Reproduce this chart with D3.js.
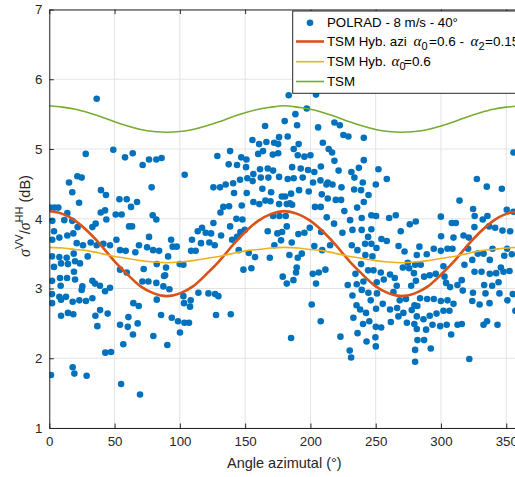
<!DOCTYPE html>
<html><head><meta charset="utf-8">
<script src="https://cdn.jsdelivr.net/npm/d3@7"></script>
<style>body{margin:0;background:#fff;overflow:hidden}</style>
</head><body><svg id="c" width="515" height="477"></svg>
<script>
const xTicks=[0,50,100,150,200,250,300,350];
const yTicks=[1,2,3,4,5,6,7];
const curveAngle=[0,10,20,30,40,50,60,70,80,90,100,110,120,130,140,150,160,170,180,190,200,210,220,230,240,250,260,270,280,290,300,310,320,330,340,350,360];
const tsmHybAzi=[4.11,4.07,3.97,3.81,3.61,3.39,3.20,3.03,2.93,2.89,2.93,3.03,3.20,3.39,3.61,3.81,3.97,4.07,4.11,4.07,3.97,3.81,3.61,3.39,3.20,3.03,2.93,2.89,2.93,3.03,3.20,3.39,3.61,3.81,3.97,4.07,4.11];
const tsmHyb=[3.59,3.58,3.56,3.54,3.50,3.46,3.43,3.40,3.38,3.37,3.38,3.40,3.43,3.46,3.50,3.54,3.56,3.58,3.59,3.58,3.56,3.54,3.50,3.46,3.43,3.40,3.38,3.37,3.38,3.40,3.43,3.46,3.50,3.54,3.56,3.58,3.59];
const tsm=[5.62,5.60,5.57,5.52,5.46,5.39,5.33,5.28,5.25,5.24,5.25,5.28,5.33,5.39,5.46,5.52,5.57,5.60,5.62,5.60,5.57,5.52,5.46,5.39,5.33,5.28,5.25,5.24,5.25,5.28,5.33,5.39,5.46,5.52,5.57,5.60,5.62];
const legendLabels=["POLRAD - 8 m/s - 40°","TSM Hyb. azi","TSM Hyb.","TSM"];
const polradPoints=[
[36.3,5.72],[27.9,4.93],[49,4.99],[58,4.88],[63.9,4.94],[76.4,4.85],[82,4.85],[86,4.87],[128.7,4.9],[138.5,4.97],[147,4.88],[151,4.85],[155.6,5.13],[160.7,5.07],[160,4.93],[165.3,5.33],[166.3,5.1],[163.7,4.97],[171.2,4.92],[175.3,4.94],[172.2,5.09],[175.3,5.07],[176,5.17],
[21.5,4.61],[24.8,4.59],[15.1,4.52],[17.6,4.38],[22.8,4.23],[78.4,4.45],[103.7,4.63],[71.5,4.77],
[39.6,4.41],[43.4,4.34],[53.7,4.28],[59.3,4.28],[67.2,4.24],[62.6,4.17],[39.4,4.09],[42.7,4.12],[43.7,3.99],[50.9,4.06],[55.4,4.06],[33,3.88],[35.5,3.93],[61.1,3.89],[63.4,3.89],[79.2,4.05],[82,3.99],
[0.5,4.16],[3.9,4.16],[6.9,4.16],[13.8,4.08],[2.3,3.97],[11.5,3.98],[17.6,3.97],[21.7,3.88],[18.4,3.79],[3.6,3.82],[2.3,3.7],[7.7,3.73],[13.8,3.76],[21,3.65],[25.8,3.62],[31.7,3.66],[36.3,3.62],[41.4,3.64],[46.5,3.62],[51.4,3.7],[54.2,3.55],[58.5,3.54],[68.7,3.62],[65.9,3.52],[74.9,3.59],[79.5,3.55],[84.1,3.54],[76.4,3.74],[93.3,3.7],[94.5,3.6],[97.6,3.6],[91,3.46],[89.4,3.3],[82.3,3.35],[72.3,3.28],[75.9,3.1],[71.3,3.1],[82,3.08],[88.7,3.19],[87.9,3.18],[87.4,3.03],[92,2.99],[102.7,3.34],[99.9,3.35],[108.6,3.54],[112.1,3.54],[109.3,3.7],[116.2,3.65],[113.7,3.82],[117,3.87],[119.8,3.8],[123.9,3.79],[122.6,3.66],[125.7,3.94],[126.7,3.62],[131.6,3.76],[140,3.7],[143.8,3.74],[146.4,3.81],[149.7,3.84],[145.1,3.55],[152.8,3.51],[157.6,3.45],[154.8,3.29],[148.7,3.27],[168.9,3.44],[172.4,3.62],[177.5,3.69],[178.3,3.81],[174.7,3.79],[167.3,3.82],[171.4,4.04],[176.3,4.04],[143.3,4.0],[147.9,3.99],[138.5,3.89],[131.1,4.09],[133.3,4.17],[137.7,4.18],[147.4,4.19],[156.3,4.24],[160.9,4.21],[165.5,4.26],[169.4,4.25],[176,4.21],[178.1,4.32],[151.2,4.37],[141.5,4.37],[125.7,4.45],[130.8,4.45],[135.1,4.49],[140.8,4.51],[146.1,4.56],[151.7,4.58],[155.8,4.54],[162,4.59],[167.8,4.59],[171.4,4.69],[176,4.6],[163.2,4.43],[169.9,4.38],[156.3,4.64],[161.4,4.71],[167.3,4.72],[150.7,4.74],[143.8,4.77],[137.4,4.78],
[2.1,3.46],[7.7,3.45],[9,3.36],[3.6,3.31],[13.3,3.44],[14.3,3.35],[18.7,3.5],[19.7,3.39],[23.5,3.36],[29.4,3.46],[18.9,3.24],[2.1,3.11],[8.2,3.15],[13.6,3.15],[8.7,3.04],[19.7,3.13],[25.3,3.03],[33,3.11],[35,3.07],[38.8,3.04],[42.7,2.96],[46.5,3.01],[2.1,2.92],[7.7,2.88],[12.8,2.88],[24.8,2.98],[54.2,3.27],[59.3,3.23],
[2.1,2.79],[9,2.84],[17.9,2.81],[23,2.83],[28.1,2.82],[33,2.86],[9,2.61],[14.3,2.65],[18.4,2.63],[35.3,2.61],[38.9,2.69],[44.7,2.64],[36.8,2.46],[42.9,2.08],[47.3,2.09],[54.2,2.48],[60.1,2.45],[60.6,2.59],[64.4,2.79],[68.5,2.75],[67.7,2.5],[64.1,2.34],[56.7,2.2],[79.7,2.32],[85.6,2.62],[82.3,2.84],[93.8,2.58],[98.6,2.53],[100.1,2.37],[90.4,2.19],[103.2,2.79],[107.8,2.74],[108.3,2.83],[103.5,2.51],[107,2.51],[102.7,2.89],[114.2,2.94],[121.9,2.93],[127,2.92],[129.5,2.89],[127.7,2.62],[139,2.63],[1.3,1.76],[17.9,1.87],[19.2,1.78],[28.6,1.75],[55,1.63],[69.5,1.48],
[183.4,5.77],[204.3,5.78],[197.2,5.58],[188.5,5.5],[180.3,5.4],[189.8,5.34],[182.6,5.18],[205.9,5.31],[218.4,5.38],[222.5,5.34],[225.3,5.2],[229.1,5.18],[240.9,5.16],[209.5,5.09],[214,5.0],[216.6,4.95],[191,5.07],[187.2,5.0],[190.3,4.91],[195.4,4.89],[200,4.91],[218.4,4.83],[240.9,4.84],[186,4.74],[192.6,4.72],[198.2,4.7],[203,4.67],[208,4.75],[221.6,4.69],[231.4,4.67],[237.1,4.73],[252.1,4.71],[258.5,4.57],[182.6,4.57],[187.2,4.58],[194.1,4.59],[207.7,4.55],[212.3,4.49],[216.9,4.49],[213.3,4.52],[223.8,4.45],[219.4,4.27],[223.5,4.27],[233.7,4.59],[240.1,4.52],[238.8,4.41],[233.5,4.42],[244.5,4.34],[250.1,4.49],[235.8,4.16],[240.9,4.24],[191.3,4.41],[198.7,4.39],[202,4.52],[208.7,4.35],[213.3,4.29],[226,4.11],[180.6,4.32],[185.2,4.36],[184.2,4.22],[181.9,4.21],[186,4.2],[203.5,4.17],[207.9,4.17],[212.5,4.02],[218.1,3.93],[230.4,3.98],[239.3,4.01],[246.7,4.05],[250.3,4.04],[260.3,4.01],[265.4,4.05],[276.1,3.92],[280.7,3.96],[269.2,3.82],[299.9,4.03],[314.2,4.26],[327.5,4.57],[335.1,4.46],[346.6,4.43],[355.6,4.95],[324.6,4.14],[325.8,4.04],[332,3.99],[335.6,4.04],[325.6,3.88],[336.9,3.89],[341.5,3.87],[347.1,3.83],[350.4,4.13],[355.5,4.1],[353,3.82],[308.3,3.94],[311.4,3.94],[300.1,3.75],[309.6,3.73],[317.3,3.76],[321.3,3.73],
[181.9,3.89],[190.8,3.78],[195.4,3.8],[199.5,3.87],[203,3.61],[208.2,3.81],[209,3.55],[215.1,3.62],[224.5,3.8],[232.2,3.84],[239.3,3.84],[246.7,3.85],[244.2,3.74],[231.7,3.62],[236,3.55],[241.9,3.64],[246.7,3.64],[250.6,3.58],[242.1,3.48],[247.5,3.46],[254.4,3.71],[258.5,3.68],[267.5,3.61],[272.1,3.53],[283.5,3.6],[281.5,3.48],[289.1,3.49],[294.5,3.57],[299.9,3.54],[305,3.57],[308.8,3.57],[320.8,3.57],[328.2,3.5],[332.6,3.5],[339.5,3.57],[350.7,3.57],[354.3,3.49],[183.9,3.48],[190.3,3.44],[193.4,3.5],[185.7,3.66],[181.1,4.04],
[187,3.12],[178.8,3.17],[181.9,3.07],[189.5,3.3],[189,3.23],[201.8,3.21],[206.4,3.23],[204.3,3.07],[211.5,3.27],[201,2.77],[207.9,2.53],[185.2,2.29],[223,2.31],[230.1,2.11],[231.2,2.01],[228.6,3.05],[232.2,2.9],[234.5,3.21],[235.5,3.06],[238.8,3.35],[240.6,3.1],[239.3,2.98],[244.4,2.94],[246.2,2.83],[244.2,3.26],[248.3,3.26],[250.8,3.09],[251,2.93],[250.3,2.71],[253.9,3.23],[256.2,3.13],[255.4,2.78],[261,3.2],[264.6,3.15],[266.1,3.04],[263.6,2.95],[261,2.7],[266.4,2.72],[268.4,2.83],[271.2,2.65],[267.4,2.6],[261.6,2.52],[235.3,2.76],[238.1,2.7],[242.6,2.65],[232.9,2.58],[240.3,2.49],[245.1,2.53],[236.1,2.36],[243,2.24],[250.1,2.45],[254.2,2.44],[249.8,2.3],[250.1,2.17],[274.6,3.37],[280.2,3.34],[284.5,3.34],[270.8,3.3],[275.6,3.29],[279.3,3.22],[277.2,3.04],[280.8,3.11],[273.2,2.85],[279.7,2.76],[284,2.86],[277.6,2.69],[281.9,2.75],[281.5,2.6],[273.9,2.51],[279.6,2.49],[281.5,2.42],[282,2.26],[287.1,2.26],[280.2,2.12],[280.2,1.95],[287.1,3.17],[291.4,3.19],[296,3.21],[289.4,2.85],[294.5,2.85],[291.4,2.61],[286.6,2.56],[288.6,2.41],[293.5,2.48],[296.6,2.64],[292.2,2.14],[299.9,2.82],[301.9,2.68],[305,2.83],[309.6,2.78],[306.5,2.68],[299.4,2.46],[304.4,2.48],[307.8,2.34],[312.7,2.48],[316,2.49],[316.7,2.97],[321.7,1.99],[324.5,2.94],[324,2.82],[329.6,2.77],[334.1,2.93],[337.2,2.79],[344.8,2.93],[335.3,2.53],[332.6,2.48],[343.3,2.48],[350.9,2.83],[355,2.92],[357,2.68],[301.9,3.32],[303.9,3.08],[307,3.02],[302.7,3.17],[312.6,3.05],[315.9,3.12],[318,3.34],[324,3.41],[325.7,3.24],[331.1,3.24],[337.4,3.41],[337.4,3.21],[333.1,3.05],[339.2,3.04],[344.1,3.09],[342.3,3.22],[345.9,3.3],[347.9,3.24],[352.5,3.25],[348.5,3.47]
];

const colors={pts:"#0072BD",red:"#D95319",yel:"#EDB120",grn:"#77AC30",ax:"#262626",grid:"#e3e3e3"};
const svg=d3.select("#c");
const L=49.3,T=9.5,R=519.3,B=428;
const x=d3.scaleLinear().domain([0,360]).range([L,R]);
const y=d3.scaleLinear().domain([1,7]).range([B,T]);
const font="'Liberation Sans',Arial,Helvetica,sans-serif";
const serif="'Liberation Serif',serif";

svg.append("defs").append("clipPath").attr("id","clip").append("rect").attr("x",L).attr("y",T).attr("width",R-L).attr("height",B-T);

// grid
const g=svg.append("g");
g.selectAll(".gx").data(xTicks).enter().append("line").attr("x1",d=>x(d)).attr("x2",d=>x(d)).attr("y1",T).attr("y2",B).attr("stroke",colors.grid).attr("stroke-width",1);
g.selectAll(".gy").data(yTicks).enter().append("line").attr("y1",d=>y(d)).attr("y2",d=>y(d)).attr("x1",L).attr("x2",R).attr("stroke",colors.grid).attr("stroke-width",1);

const plot=svg.append("g").attr("clip-path","url(#clip)");
plot.selectAll("circle").data(polradPoints).enter().append("circle")
 .attr("cx",d=>x(d[0])).attr("cy",d=>y(d[1])).attr("r",3.3).attr("fill",colors.pts);

const line=d3.line().x((d,i)=>x(curveAngle[i])).y(d=>y(d)).curve(d3.curveNatural);
plot.append("path").attr("d",line(tsmHybAzi)).attr("fill","none").attr("stroke",colors.red).attr("stroke-width",2.6);
plot.append("path").attr("d",line(tsmHyb)).attr("fill","none").attr("stroke",colors.yel).attr("stroke-width",1.6);
plot.append("path").attr("d",line(tsm)).attr("fill","none").attr("stroke",colors.grn).attr("stroke-width",1.6);

// axes
const xa=svg.append("g").attr("transform",`translate(0,${B})`).call(d3.axisBottom(x).tickValues(xTicks).tickSizeInner(-4.5).tickSizeOuter(0).tickPadding(9));
const xt=svg.append("g").attr("transform",`translate(0,${T})`).call(d3.axisTop(x).tickValues(xTicks).tickSizeInner(-4.5).tickSizeOuter(0).tickFormat(""));
const ya=svg.append("g").attr("transform",`translate(${L},0)`).call(d3.axisLeft(y).tickValues(yTicks).tickFormat(d3.format("d")).tickSizeInner(-4.5).tickSizeOuter(0).tickPadding(7));
[xa,xt,ya].forEach(a=>{a.select(".domain").attr("stroke",colors.ax).attr("stroke-width",1);a.selectAll(".tick line").attr("stroke",colors.ax);a.selectAll("text").attr("fill",colors.ax).style("font-family",font).style("font-size","13.3px");});

// x label
svg.append("text").attr("x",(L+R)/2).attr("y",468).attr("text-anchor","middle").attr("fill",colors.ax).style("font-family",font).style("font-size","14.5px").text("Angle azimutal (°)");
// y label
const yl=svg.append("text").attr("transform",`translate(30,216) rotate(-90)`).attr("text-anchor","middle").attr("fill",colors.ax).style("font-family",font).style("font-size","14.5px");
yl.append("tspan").style("font-family",serif).style("font-style","italic").style("font-size","16px").text("σ");
yl.append("tspan").attr("dy",-7).style("font-size","11px").text("VV");
yl.append("tspan").attr("dy",7).text("/");
yl.append("tspan").style("font-family",serif).style("font-style","italic").style("font-size","16px").text("σ");
yl.append("tspan").attr("dy",-7).style("font-size","11px").text("HH");
yl.append("tspan").attr("dy",7).text(" (dB)");

// legend
const lg=svg.append("g");
lg.append("rect").attr("x",292.7).attr("y",11).attr("width",240).attr("height",82.3).attr("fill","#fff").attr("stroke",colors.ax).attr("stroke-width",1);
const rowsY=[22.7,41.5,61.7,81.5];
lg.append("circle").attr("cx",310).attr("cy",rowsY[0]).attr("r",3.3).attr("fill",colors.pts);
[[colors.red,2.6],[colors.yel,1.6],[colors.grn,1.6]].forEach((c,i)=>{
 lg.append("line").attr("x1",296).attr("x2",324).attr("y1",rowsY[i+1]).attr("y2",rowsY[i+1]).attr("stroke",c[0]).attr("stroke-width",c[1]);
});
function ltext(i){return lg.append("text").attr("x",327).attr("y",rowsY[i]).attr("dy","0.35em").attr("fill","#000").style("font-family",font).style("font-size","13.3px");}
ltext(0).text(legendLabels[0]);
const t1=ltext(1);
t1.append("tspan").text(legendLabels[1]);
t1.append("tspan").attr("x",413.5).style("font-family",serif).style("font-style","italic").style("font-size","15px").text("α");
t1.append("tspan").attr("dy",4).style("font-size","11px").text("0");
t1.append("tspan").attr("x",429).attr("dy",-4).style("font-size","13.5px").text("=0.6 -");
t1.append("tspan").attr("x",470.5).style("font-family",serif).style("font-style","italic").style("font-size","15px").text("α");
t1.append("tspan").attr("dy",4).style("font-size","11px").text("2");
t1.append("tspan").attr("x",485).attr("dy",-4).style("font-size","13.5px").text("=0.15");
const t2=ltext(2);
t2.append("tspan").text(legendLabels[2]);
t2.append("tspan").attr("x",391.5).style("font-family",serif).style("font-style","italic").style("font-size","15px").text("α");
t2.append("tspan").attr("dy",4).style("font-size","11px").text("0");
t2.append("tspan").attr("x",404).attr("dy",-4).style("font-size","13.5px").text("=0.6");
ltext(3).text(legendLabels[3]);
</script></body></html>
